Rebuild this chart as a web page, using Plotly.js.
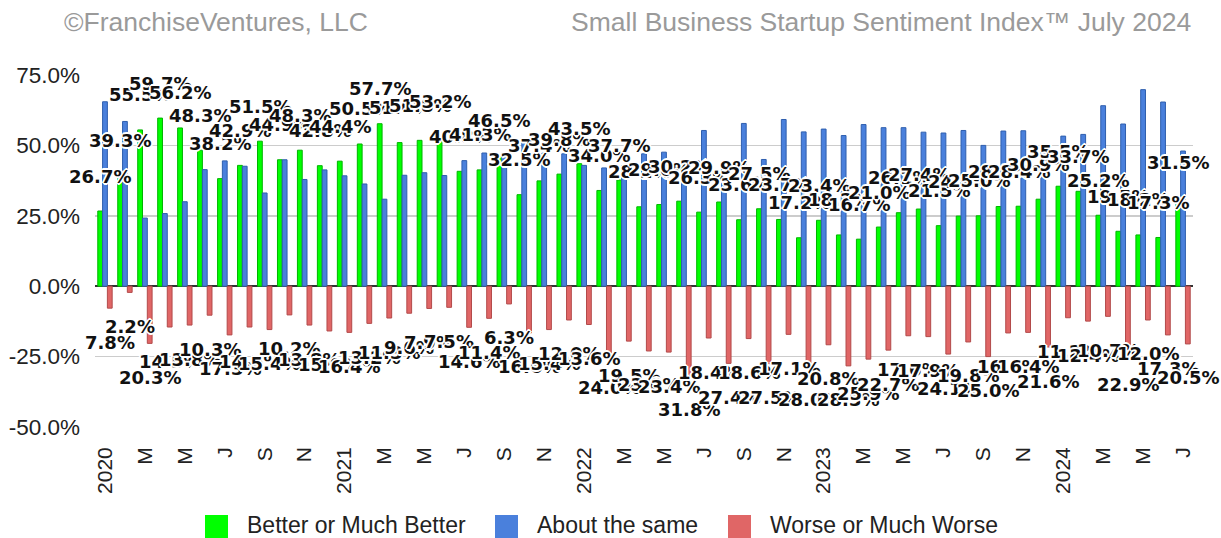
<!DOCTYPE html>
<html>
<head>
<meta charset="utf-8">
<script src="https://cdn.plot.ly/plotly-3.0.1.min.js"></script>
<style>
  html, body { margin: 0; padding: 0; background: #fff; }
  #chart { width: 1221px; height: 538px; }
</style>
</head>
<body>
<div id="chart"></div>
<script>
// Monthly survey periods, Jan 2020 .. Jul 2024
const months = [
  "2020-01","2020-02","2020-03","2020-04","2020-05","2020-06","2020-07","2020-08","2020-09","2020-10","2020-11","2020-12",
  "2021-01","2021-02","2021-03","2021-04","2021-05","2021-06","2021-07","2021-08","2021-09","2021-10","2021-11","2021-12",
  "2022-01","2022-02","2022-03","2022-04","2022-05","2022-06","2022-07","2022-08","2022-09","2022-10","2022-11","2022-12",
  "2023-01","2023-02","2023-03","2023-04","2023-05","2023-06","2023-07","2023-08","2023-09","2023-10","2023-11","2023-12",
  "2024-01","2024-02","2024-03","2024-04","2024-05","2024-06","2024-07"
];

// Share of respondents (%)
const better = [
  26.7, 39.3, 55.5, 59.7, 56.2, 48.3, 38.2, 42.9, 51.5, 44.9, 48.3, 42.8,
  44.4, 50.5, 57.7, 51.0, 51.8, 53.2, 40.8, 41.3, 46.5, 32.5, 37.4, 39.8,
  43.5, 34.0, 37.7, 28.2, 29.0, 30.2, 26.3, 29.9, 23.6, 27.5, 23.7, 17.2,
  23.4, 18.2, 16.7, 21.0, 26.1, 27.4, 21.5, 24.9, 25.0, 28.3, 28.4, 30.9,
  35.5, 33.7, 25.2, 19.5, 18.2, 17.3, 31.5
];
const same = [
  65.5, 58.5, 24.2, 25.8, 30.0, 41.4, 44.5, 42.6, 33.1, 44.9, 37.9, 41.3,
  39.2, 36.3, 30.9, 39.4, 40.3, 39.3, 44.6, 47.3, 47.2, 50.9, 47.2, 47.0,
  42.9, 42.0, 42.8, 47.0, 47.6, 38.0, 55.3, 42.7, 57.8, 45.0, 59.2, 54.8,
  55.8, 53.5, 57.4, 56.3, 56.3, 54.7, 54.4, 55.3, 50.0, 55.1, 55.2, 47.5,
  53.3, 53.9, 64.1, 57.6, 69.8, 65.4, 48.0
];
const worse = [
  7.8, 2.2, 20.3, 14.5, 13.8, 10.3, 17.3, 14.5, 15.4, 10.2, 13.8, 15.9,
  16.4, 13.2, 11.3, 9.6, 7.9, 7.5, 14.6, 11.4, 6.3, 16.6, 15.4, 12.0,
  13.6, 24.0, 19.5, 23.0, 23.4, 31.8, 18.4, 27.4, 18.6, 27.5, 17.1, 28.0,
  20.8, 28.3, 25.9, 22.7, 17.6, 17.9, 24.1, 19.8, 25.0, 16.6, 16.4, 21.6,
  11.2, 12.4, 10.7, 22.9, 12.0, 17.3, 20.5
];

const seriesNames = ["Better or Much Better", "About the same", "Worse or Much Worse"];
const monthLetters = ["J","F","M","A","M","J","J","A","S","O","N","D"];

// Every second month gets a tick: the year in January, otherwise the month initial
const tickVals = months.filter((m, i) => i % 2 === 0);
const tickText = tickVals.map(m => {
  const [y, mo] = m.split("-").map(Number);
  return mo === 1 ? String(y) : monthLetters[mo - 1];
});

const COLORS = ["#00ff00", "#4a80dc", "#e06666"];
const EDGES = ["#00b400", "#2f5fae", "#b24a4a"];
const BAR_GAP = 0.28;
const slotShift = (1 - BAR_GAP) / 3;   // offset of the outer bars from the group centre

const W = 1221, H = 538;
const M = { l: 95, r: 28, t: 75, b: 111 };
const plotW = W - M.l - M.r, plotH = H - M.t - M.b;
// pixel position on the page -> paper fraction
const px = X => (X - M.l) / plotW;
const py = Y => (H - M.b - Y) / plotH;

const pct = v => v.toFixed(1) + "%";
const negWorse = worse.map(v => -v);

const traces = [better, same, negWorse].map((vals, k) => ({
  type: "bar", name: seriesNames[k], x: months, y: vals,
  marker: { color: COLORS[k], line: { color: EDGES[k], width: 1 } },
  hoverinfo: "skip", showlegend: false
}));

// Value labels for the "better" and "worse" series
const halo = "-1px -1px 0 #fff, 1px -1px 0 #fff, -1px 1px 0 #fff, 1px 1px 0 #fff, 0 -2px 0 #fff, 0 2px 0 #fff, -2px 0 0 #fff, 2px 0 0 #fff";
const labelFont = { family: "DejaVu Sans, sans-serif", size: 18, color: "#111", weight: "bold", shadow: halo };
const annotations = [];
better.forEach((v, i) => annotations.push({
  x: i - slotShift, y: v, xref: "x", yref: "y", text: pct(v), showarrow: false,
  yshift: 35, font: labelFont
}));
worse.forEach((v, i) => annotations.push({
  x: i + slotShift, y: -v, xref: "x", yref: "y", text: pct(v), showarrow: false,
  yshift: -34, font: labelFont
}));

// Header lines
const headFont = { family: "Liberation Sans, Arial, sans-serif", size: 26.5, color: "#9a9a9a" };
annotations.push({ xref: "paper", yref: "paper", x: px(62), y: py(22), xanchor: "left", yanchor: "middle",
  text: "©FranchiseVentures, LLC", showarrow: false, font: headFont });
annotations.push({ xref: "paper", yref: "paper", x: px(1193), y: py(22), xanchor: "right", yanchor: "middle",
  text: "Small Business Startup Sentiment Index™ July 2024", showarrow: false, font: headFont });

// Legend: coloured squares with series names underneath the axis
const legendFont = { family: "Liberation Sans, Arial, sans-serif", size: 23, color: "#222" };
const legendX = [205, 495, 728];
const shapes = [];
seriesNames.forEach((name, k) => {
  const x0 = legendX[k];
  shapes.push({ type: "rect", xref: "paper", yref: "paper",
    x0: px(x0), x1: px(x0 + 23), y0: py(538), y1: py(515),
    fillcolor: COLORS[k], line: { width: 0 } });
  annotations.push({ xref: "paper", yref: "paper", x: px(x0 + 40), y: py(525),
    xanchor: "left", yanchor: "middle", text: name, showarrow: false, font: legendFont });
});

const layout = {
  width: W, height: H,
  margin: M,
  paper_bgcolor: "#fff", plot_bgcolor: "#fff",
  barmode: "group", bargap: BAR_GAP, bargroupgap: 0,
  showlegend: false,
  xaxis: { type: "category", categoryorder: "array", categoryarray: months,
    range: [-0.5, months.length - 0.5], autorange: false,
    tickmode: "array", tickvals: tickVals, ticktext: tickText, tickangle: -90,
    tickfont: { family: "Liberation Sans, Arial, sans-serif", size: 21, color: "#222" },
    ticks: "", showgrid: false, zeroline: false, showline: false,
    ticklabelstandoff: 15, automargin: false, fixedrange: true },
  yaxis: { range: [-50, 75], autorange: false, tickvals: [-50, -25, 0, 25, 50, 75],
    ticktext: ["-50.0%", "-25.0%", "0.0%", "25.0%", "50.0%", "75.0%"],
    tickfont: { family: "Liberation Sans, Arial, sans-serif", size: 22.5, color: "#222" },
    gridcolor: "#cccccc", gridwidth: 1.5,
    zeroline: true, zerolinecolor: "#333", zerolinewidth: 1.5,
    ticks: "", ticklabelstandoff: 14, automargin: false, fixedrange: true },
  shapes: shapes,
  annotations: annotations
};

Plotly.newPlot("chart", traces, layout, { displayModeBar: false, staticPlot: true });
</script>
</body>
</html>
